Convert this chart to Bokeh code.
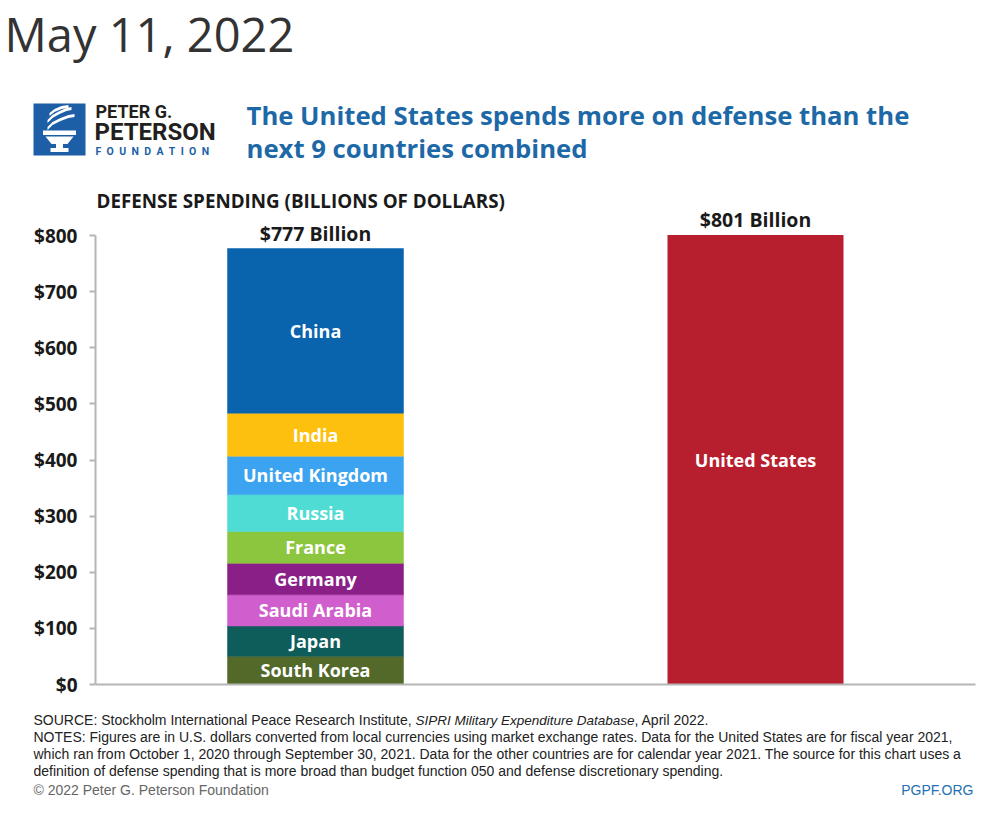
import numpy as np
from bokeh.plotting import figure
from bokeh.models import ColumnDataSource, Range1d, FixedTicker, Label
from bokeh.embed import file_html
from bokeh.resources import INLINE
from bokeh.core.properties import value

# ---------------- data ----------------
countries = ["South Korea", "Japan", "Saudi Arabia", "Germany", "France",
             "Russia", "United Kingdom", "India", "China"]
spending = [50.2, 54.1, 55.6, 56.0, 56.6, 65.9, 68.4, 76.6, 293.4]
country_colors = ["#52692a", "#0e5d5a", "#d05fcd", "#8b1f88", "#8cc63f",
                  "#4fdcd4", "#3ba3ef", "#fdc00f", "#0a63ad"]
us_name = ["United States"]
us_spending = [801]
us_color = "#b71f2e"
y_ticks = [0, 100, 200, 300, 400, 500, 600, 700, 800]
y_tick_labels = ["$0", "$100", "$200", "$300", "$400", "$500", "$600", "$700", "$800"]

W, H = 995, 826
BLUE = "#1d68a6"
DARK = "#1a1a1a"
PXU = 449 / 800.0   # pixels per billion dollars


# page pixel -> data units (bar x unit = 220 px; y in billions)
def X(px):
    return (px - 95) / 220.0


def Y(py):
    return (684 - py) / PXU


p = figure(width=W, height=H, x_range=Range1d(X(0), X(W)), y_range=Range1d(Y(H), Y(0)),
           toolbar_location=None, output_backend="svg", min_border=0,
           outline_line_color=None)
p.grid.visible = False


def lab(px, py, text, font="Open Sans", size="14px", style="normal", color=DARK, align="left"):
    p.add_layout(Label(x=X(px), y=Y(py), text=text, text_font=font, text_font_size=size,
                       text_font_style=style, text_color=color, text_align=align,
                       text_baseline="middle"))


# ---------------- header ----------------
lab(4, 33, "May 11, 2022", size="47px", color="#333333")

logo_blue = "#1c5fa6"


def box(l, r, t, b, color):
    p.quad(left=[X(l)], right=[X(r)], top=[Y(t)], bottom=[Y(b)], fill_color=color, line_color=None)


def poly(xs, ys, color="white"):
    p.patch(x=[X(x) for x in xs], y=[Y(y) for y in ys], fill_color=color, line_color=None)


box(33, 85, 103, 155, logo_blue)
box(42.5, 75.5, 130, 134.5, "white")
poly([45, 73, 67, 51], [136, 136, 143.5, 143.5])
box(55.5, 62.5, 143.5, 147.5, "white")
box(50, 68, 147.5, 151.5, "white")
for cx, cy in [([47, 52, 60, 68, 74], [128, 123, 119, 116, 115]),
               ([47, 52, 59, 66, 71], [121, 116, 112, 109, 108]),
               ([49, 54, 61, 68], [114, 110, 107, 106])]:
    poly(cx + cx[::-1], [y - 1.6 for y in cy] + [y + 1.6 for y in cy[::-1]])

lab(95, 110.5, "PETER G.", font="Roboto", size="18px", style="bold", color="#231f20")
lab(94, 131, "PETERSON", font="Roboto", size="24px", style="bold", color="#231f20")
lab(95, 150.5, "F\u2002O\u2002U\u2002N\u2002D\u2002A\u2002T\u2002I\u2002O\u2002N",
    font="Roboto", size="10.5px", style="bold", color=logo_blue)

lab(246, 115, "The United States spends more on defense than the", size="25.7px",
    style="bold", color=BLUE)
lab(246, 148, "next 9 countries combined", size="25.7px", style="bold", color=BLUE)

lab(96, 200.5, "DEFENSE SPENDING (BILLIONS OF DOLLARS)", size="18.8px", style="bold")

# ---------------- bars ----------------
tops = np.cumsum(spending)
bottoms = tops - np.array(spending)
src = ColumnDataSource(dict(x=[1] * len(countries), bottom=bottoms, top=tops,
                            color=country_colors, name=countries, mid=(bottoms + tops) / 2))
p.vbar(x="x", width=0.8, bottom="bottom", top="top", fill_color="color",
       line_color="color", line_width=0.5, source=src)

us_src = ColumnDataSource(dict(x=[3], top=us_spending, name=us_name,
                               mid=[v / 2 for v in us_spending]))
p.vbar(x="x", width=0.8, bottom=0, top="top", fill_color=us_color, line_color=None, source=us_src)

seg_style = dict(text_color="white", text_font=value("Open Sans"), text_font_style="bold",
                 text_font_size="18px", text_align="center", text_baseline="middle")
p.text(x="x", y="mid", text="name", source=src, **seg_style)
p.text(x="x", y="mid", text="name", source=us_src, **seg_style)

totals = [float(tops[-1]), float(us_spending[0])]
tot_src = ColumnDataSource(dict(x=[1, 3], y=[t + 27 for t in totals],
                                text=[f"${t:.0f} Billion" for t in totals]))
p.text(x="x", y="y", text="text", source=tot_src, text_color=DARK,
       text_font=value("Open Sans"), text_font_style="bold", text_font_size="19.5px",
       text_align="center", text_baseline="middle")

# ---------------- axes ----------------
ax = p.yaxis[0]
ax.fixed_location = 0
ax.ticker = FixedTicker(ticks=y_ticks)
ax.major_label_overrides = dict(zip(y_ticks, y_tick_labels))
ax.bounds = (0, 800)
ax.axis_line_color = "#b5b5b5"
ax.axis_line_width = 2
ax.major_tick_line_color = "#b5b5b5"
ax.major_tick_line_width = 2
ax.major_tick_out = 6
ax.major_tick_in = 0
ax.minor_tick_out = 0
ax.minor_tick_in = 0
ax.major_label_standoff = 12
ax.major_label_text_font = "Open Sans"
ax.major_label_text_font_style = "bold"
ax.major_label_text_font_size = "19px"
ax.major_label_text_color = DARK

xax = p.xaxis[0]
xax.fixed_location = 0
xax.ticker = FixedTicker(ticks=[])
xax.bounds = (0, 4)
xax.axis_line_color = "#b5b5b5"
xax.axis_line_width = 2
xax.major_tick_out = 0
xax.major_tick_in = 0
xax.minor_tick_out = 0
xax.minor_tick_in = 0

# ---------------- footer notes ----------------
NF = "Liberation Sans"
NC = "#222222"
lab(33, 719.5, "SOURCE: Stockholm International Peace Research Institute,", font=NF, size="14px", color=NC)
lab(415, 719.5, "SIPRI Military Expenditure Database", font=NF, size="13.5px", style="italic", color=NC)
lab(634, 719.5, ", April 2022.", font=NF, size="14px", color=NC)
lab(33, 736.5, "NOTES: Figures are in U.S. dollars converted from local currencies using market exchange rates. "
               "Data for the United States are for fiscal year 2021,", font=NF, size="14px", color=NC)
lab(33, 753.5, "which ran from October 1, 2020 through September 30, 2021. Data for the other countries are for "
               "calendar year 2021. The source for this chart uses a", font=NF, size="14px", color=NC)
lab(33, 770.5, "definition of defense spending that is more broad than budget function 050 and defense "
               "discretionary spending.", font=NF, size="14px", color=NC)
lab(33, 789, "\u00a9 2022 Peter G. Peterson Foundation", font=NF, size="14px", color="#666666")
lab(973, 789, "PGPF.ORG", font=NF, size="14px", color="#2470b3", align="right")

open("out.html", "w").write(file_html(p, INLINE))
